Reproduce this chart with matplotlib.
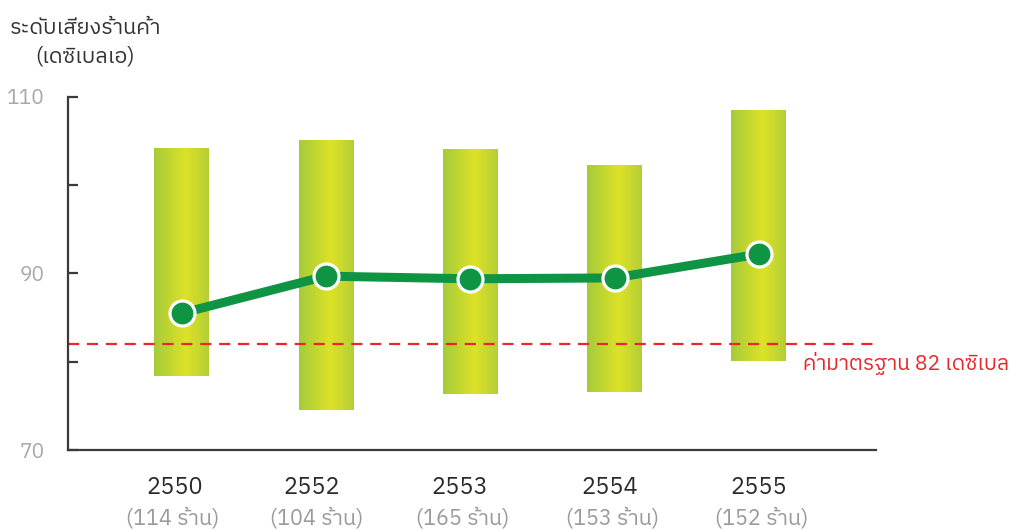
import matplotlib
matplotlib.use("Agg")
import matplotlib.pyplot as plt
from matplotlib import font_manager
from matplotlib.colors import LinearSegmentedColormap
import numpy as np

# Data
years = ["2550", "2552", "2553", "2554", "2555"]
shops = ["(114 ร้าน)", "(104 ร้าน)", "(165 ร้าน)", "(153 ร้าน)", "(152 ร้าน)"]
range_low = [78.4, 74.5, 76.3, 76.6, 80.1]
range_high = [104.2, 105.1, 104.1, 102.3, 108.5]
average = [85.5, 89.7, 89.4, 89.5, 92.2]
standard = 82

# small horizontal nudges (pixels) for the two-line category labels
year_dx = [-9, -16, -12, -7, -2]
shop_dx = [-11, -11, -9, -4, 1]

thai_fonts = sorted({f.name for f in font_manager.fontManager.ttflist
                     if "Thai" in f.name or "Loma" in f.name or "Garuda" in f.name})
plt.rcParams["font.family"] = thai_fonts + ["DejaVu Sans"]

fig = plt.figure(figsize=(10.14, 5.31), dpi=100)
ax = fig.add_axes([68 / 1014, 81 / 531, 808 / 1014, 353 / 531])

x = np.arange(len(years))
bar_w = 0.38

grad = LinearSegmentedColormap.from_list(
    "bar", [(0.0, "#a6cb3a"), (0.58, "#dde227"), (1.0, "#b3cf35")])
g = np.linspace(0, 1, 256).reshape(1, -1)

bars = ax.bar(x - 0.012, np.array(range_high) - np.array(range_low), bottom=range_low,
              width=bar_w, color="none", edgecolor="none", zorder=1)
for rect in bars:
    x0, y0 = rect.get_x(), rect.get_y()
    im = ax.imshow(g, cmap=grad, aspect="auto", zorder=1,
                   extent=[x0, x0 + rect.get_width(), y0, y0 + rect.get_height()])
    im.set_clip_path(rect)

ax.axhline(standard, color="#e8262b", lw=1.6, ls=(0, (5, 3.5)), zorder=2)

ax.plot(x - 0.012, average, color="#0f9444", lw=6.5, marker="o", markersize=18,
        markerfacecolor="#0f9444", markeredgecolor="white", markeredgewidth=2.3,
        solid_capstyle="round", zorder=3)

ax.set_xlim(-0.8, 4.8)
ax.set_ylim(70, 110)

for s in ["top", "right"]:
    ax.spines[s].set_visible(False)
for s in ["left", "bottom"]:
    ax.spines[s].set_color("#3a3a3a")
    ax.spines[s].set_linewidth(1.6)

ax.set_yticks([70, 80, 90, 100, 110])
ax.set_yticklabels(["70", "", "90", "", "110"])
ax.tick_params(axis="y", direction="in", length=7, width=1.6, color="#3a3a3a",
               labelsize=15, labelcolor="#a8a8a8", pad=17)
ax.set_xticks(x)
ax.set_xticklabels([])
ax.tick_params(axis="x", length=0)

px = 72 / 100
for xi, yr, sh, dy, ds in zip(x, years, shops, year_dx, shop_dx):
    ax.annotate(yr, (xi, 70), xytext=(dy * px, -37 * px), textcoords="offset points",
                ha="center", va="center", fontsize=17, color="#2a2a2a",
                annotation_clip=False)
    ax.annotate(sh, (xi, 70), xytext=(ds * px, -68 * px), textcoords="offset points",
                ha="center", va="center", fontsize=15.5, color="#9a9a9a",
                annotation_clip=False)

ax.annotate("ค่ามาตรฐาน 82 เดซิเบล", (4.8, standard), xytext=(-73 * px, -19 * px),
            textcoords="offset points", ha="left", va="center", fontsize=15.1,
            color="#e8262b", annotation_clip=False)

fig.text(10 / 1014, 1 - 28 / 531, "ระดับเสียงร้านค้า", ha="left", va="center",
         fontsize=15.5, color="#333333")
fig.text(35 / 1014, 1 - 57 / 531, "(เดซิเบลเอ)", ha="left", va="center",
         fontsize=15.5, color="#333333")

fig.savefig("out.png", dpi=100)
